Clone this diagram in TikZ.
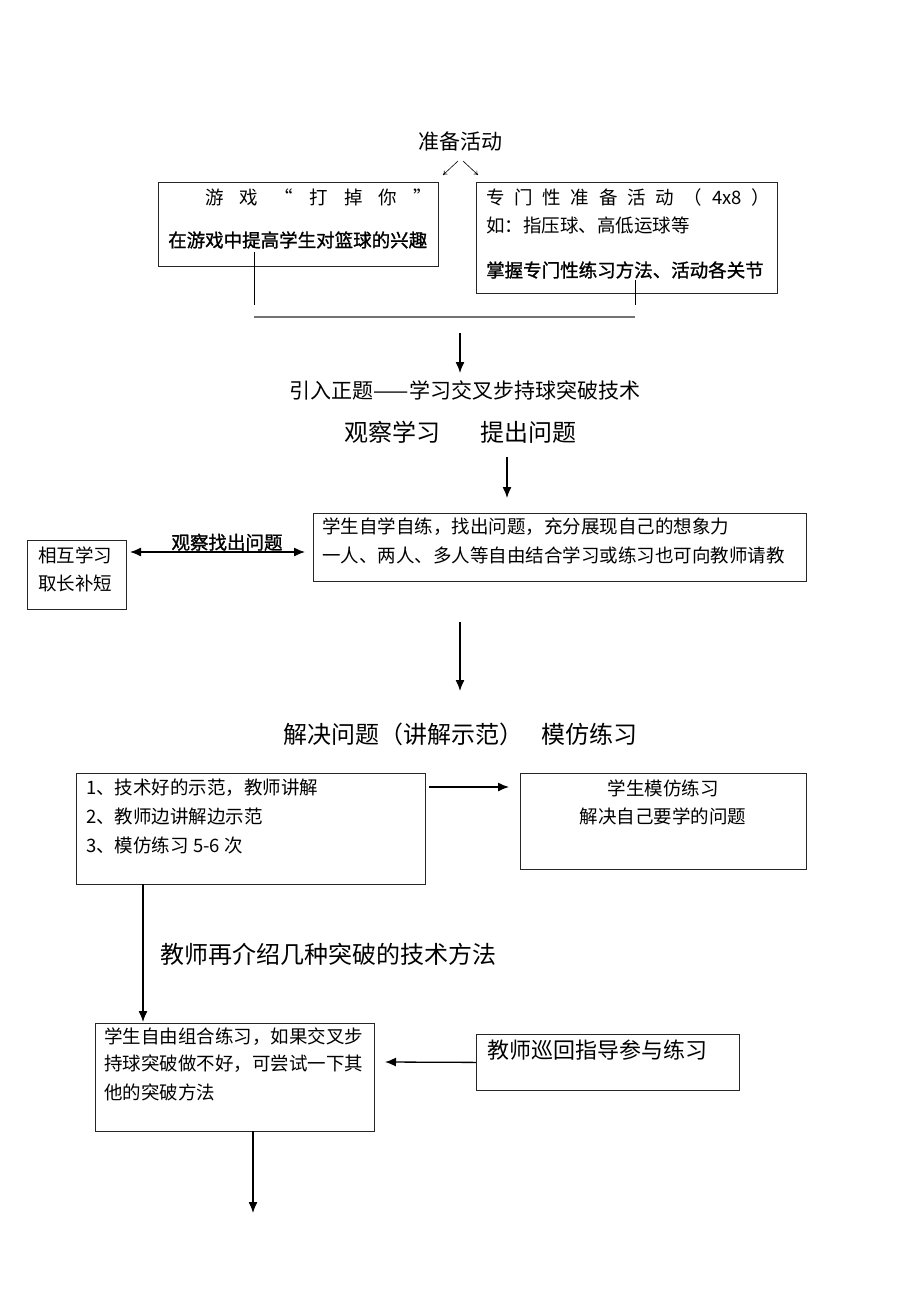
\documentclass[tikz,border=0pt]{standalone}
\usepackage{fontspec}
\setmainfont{Noto Sans CJK SC}
\newfontfamily\hei{Noto Sans CJK SC}[FakeBold=1.2]
\usetikzlibrary{arrows.meta}
\begin{document}
\begin{tikzpicture}[x=1pt,y=-1pt,
  box/.style={draw=black!85, line width=0.8pt, inner sep=0pt, anchor=north west},
  t/.style={inner sep=0pt, font=\fontsize{18.5}{22}\selectfont},
  tl/.style={t, anchor=west},
  hb/.style={inner sep=0pt, font=\hei\fontsize{18.5}{22}\selectfont},
  big/.style={inner sep=0pt, font=\fontsize{24}{28}\selectfont},
  mid/.style={inner sep=0pt, font=\fontsize{21}{25}\selectfont},
  arr/.style={line width=1.3pt, -{Latex[length=11pt,width=9pt]}},
  darr/.style={line width=1.3pt, {Latex[length=11pt,width=9pt]}-{Latex[length=11pt,width=9pt]}},
  thinarr/.style={line width=0.6pt, -{To[length=4pt,width=5pt]}},
  ln/.style={line width=0.9pt},
]
\useasboundingbox (0,0) rectangle (920,1300);

% top
\node[mid] (prep) at (460,141) {准备活动};
\coordinate (pl0) at (458,161); \coordinate (pl1) at (443,175);
\coordinate (pr0) at (463,161); \coordinate (pr1) at (478,175);
\draw[thinarr] (pl0) -- (pl1);
\draw[thinarr] (pr0) -- (pr1);

\node[box, minimum width=280, minimum height=84] (g1) at (158,182) {};
\node[tl] (g1a) at (205,197) {\makebox[227pt][s]{游\hfill 戏\hfill “\hfill 打\hfill 掉\hfill 你\hfill ”}};
\node[hb, anchor=west] (g1b) at (168,240) {在游戏中提高学生对篮球的兴趣};

\node[box, minimum width=301, minimum height=111] (g2) at (476,182) {};
\node[tl] (g2a) at (486,197) {\makebox[284pt][s]{专\hfill 门\hfill 性\hfill 准\hfill 备\hfill 活\hfill 动\hfill （\hfill 4x8\hfill ）}};
\node[tl] (g2b) at (486,225) {如：指压球、高低运球等};
\node[hb, anchor=west] (g2c) at (486,270) {掌握专门性练习方法、活动各关节};

\coordinate (v1t) at (254,252); \coordinate (v1b) at (254,305);
\coordinate (v2t) at (635,280); \coordinate (v2b) at (635,305);
\coordinate (hl) at (254,317); \coordinate (hr) at (635,317);
\draw[ln] (v1t) -- (v1b);
\draw[ln] (v2t) -- (v2b);
\draw[draw=black!55, line width=2pt] (hl) -- (hr);

\coordinate (a1s) at (460,333); \coordinate (a1e) at (460,373);
\draw[arr] (a1s) -- (a1e);

\node[mid] (intro) at (465,390) {引入正题——学习交叉步持球突破技术};
\node[big] (obs) at (392,432) {观察学习};
\node[big] (ask) at (528,432) {提出问题};

\coordinate (a2s) at (507,457); \coordinate (a2e) at (507,498);
\draw[arr] (a2s) -- (a2e);

% middle
\node[box, minimum width=493, minimum height=68] (bb) at (313,513) {};
\node[tl] (bb1) at (322,527) {学生自学自练，找出问题，充分展现自己的想象力};
\node[tl] (bb2) at (322,555) {一人、两人、多人等自由结合学习或练习也可向教师请教};

\node[box, minimum width=99, minimum height=69] (sm) at (27,540) {};
\node[tl] (sm1) at (38,555) {相互学习};
\node[tl] (sm2) at (38,583) {取长补短};

\coordinate (da1) at (130,552); \coordinate (da2) at (305,552);
\draw[darr] (da1) -- (da2);
\node[hb, anchor=south] (obsq) at (227,551) {观察找出问题};

\coordinate (a3s) at (460,622); \coordinate (a3e) at (460,691);
\draw[arr] (a3s) -- (a3e);

\node[big, anchor=west] (solve1) at (283,734) {解决问题（讲解示范）};
\node[big, anchor=west] (solve2) at (541,734) {模仿练习};

\node[box, minimum width=349, minimum height=111] (lb) at (76,773) {};
\node[tl] (lb1) at (86,788) {1、技术好的示范，教师讲解};
\node[tl] (lb2) at (86,816) {2、教师边讲解边示范};
\node[tl] (lb3) at (86,845) {3、模仿练习 5-6 次};

\coordinate (a4s) at (429,787); \coordinate (a4e) at (509,787);
\draw[arr] (a4s) -- (a4e);

\node[box, minimum width=286, minimum height=96] (rb) at (520,773) {};
\node[t] (rb1) at (663,788) {学生模仿练习};
\node[t] (rb2) at (663,816) {解决自己要学的问题};

\coordinate (a5s) at (143,884); \coordinate (a5e) at (143,1022);
\draw[arr] (a5s) -- (a5e);

\node[big, anchor=west] (intro2) at (160,954) {教师再介绍几种突破的技术方法};

% bottom
\node[box, minimum width=279, minimum height=108] (fb) at (95,1023) {};
\node[tl] (fb1) at (104,1037) {学生自由组合练习，如果交叉步};
\node[tl] (fb2) at (104,1064) {持球突破做不好，可尝试一下其};
\node[tl] (fb3) at (104,1092) {他的突破方法};

\node[box, minimum width=263, minimum height=56] (tb) at (476,1034) {};
\node[anchor=west, inner sep=0pt, font=\fontsize{22}{26}\selectfont] (tb1) at (487,1050) {教师巡回指导参与练习};

\coordinate (a6e) at (385,1062);
\draw[arr] (tb.west) -- (a6e);

\coordinate (a7s) at (253,1131); \coordinate (a7e) at (253,1213);
\draw[arr] (a7s) -- (a7e);
\end{tikzpicture}
\end{document}
